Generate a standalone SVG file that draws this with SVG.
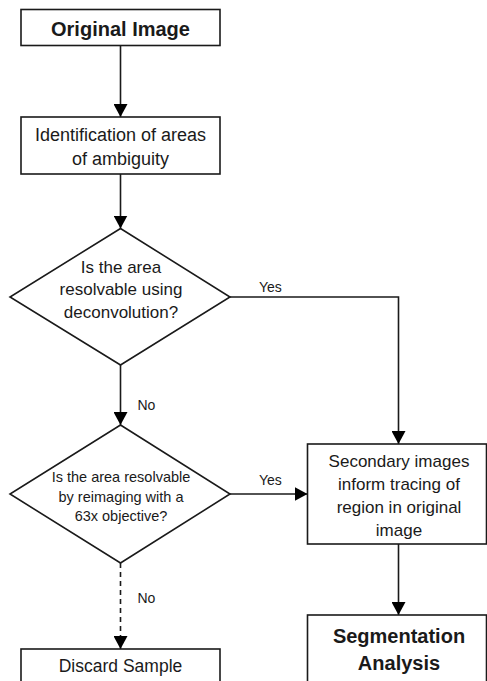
<svg xmlns="http://www.w3.org/2000/svg" width="487" height="681" viewBox="0 0 487 681">
<defs>
<marker id="ah" markerWidth="13" markerHeight="14" refX="13" refY="7" orient="auto" markerUnits="userSpaceOnUse" viewBox="0 0 13 14">
<path d="M0,0 L13,7 L0,14 Z" fill="#000"/>
</marker>
<style>
.box{fill:#fff;stroke:#1a1a1a;stroke-width:1.6}
.ln{fill:none;stroke:#1a1a1a;stroke-width:1.6}
.t{font-family:"Liberation Sans",Arial,sans-serif;fill:#1a1a1a;text-anchor:middle}
.b{font-weight:bold;font-size:20px}
.lab{font-family:"Liberation Sans",Arial,sans-serif;fill:#1a1a1a;font-size:14px}
</style>
</defs>
<rect width="487" height="681" fill="#fff"/>
<g id="connectors">
<line class="ln" x1="120.5" y1="45" x2="120.5" y2="117" marker-end="url(#ah)"/>
<line class="ln" x1="120.5" y1="174" x2="120.5" y2="228.5" marker-end="url(#ah)"/>
<polyline class="ln" points="230,297 398.5,297 398.5,444" marker-end="url(#ah)"/>
<line class="ln" x1="120.5" y1="365" x2="120.5" y2="425" marker-end="url(#ah)"/>
<line class="ln" x1="230" y1="494" x2="307.5" y2="494" marker-end="url(#ah)"/>
<line class="ln" x1="398.5" y1="544" x2="398.5" y2="615" marker-end="url(#ah)"/>
<line class="ln" x1="120.5" y1="563" x2="120.5" y2="649" stroke-dasharray="5,4" marker-end="url(#ah)"/>
<text class="lab" x="259" y="291.5">Yes</text>
<text class="lab" x="137.5" y="410">No</text>
<text class="lab" x="259" y="485">Yes</text>
<text class="lab" x="137.5" y="602.5">No</text>
</g>
<g id="original">
<rect class="box" x="21" y="9.5" width="199" height="36"/>
<text class="t b" x="120.5" y="36">Original Image</text>
</g>
<g id="identification">
<rect class="box" x="21" y="117" width="199" height="57"/>
<text class="t" font-size="18" x="120.5" y="141">Identification of areas</text>
<text class="t" font-size="18" x="120.5" y="165">of ambiguity</text>
</g>
<g id="decision1">
<polygon class="box" points="120.5,228.5 230,297 120.5,365 10,297"/>
<text class="t" font-size="17" x="121" y="272.5">Is the area</text>
<text class="t" font-size="17" x="121" y="295">resolvable using</text>
<text class="t" font-size="17" x="121" y="317.5">deconvolution?</text>
</g>
<g id="decision2">
<polygon class="box" points="120.5,425 230,494 120.5,563 10,494"/>
<text class="t" font-size="14.5" x="121" y="481.5">Is the area resolvable</text>
<text class="t" font-size="14.5" x="121" y="501.5">by reimaging with a</text>
<text class="t" font-size="14.5" x="121" y="520.5">63x objective?</text>
</g>
<g id="secondary">
<rect class="box" x="307.5" y="444" width="179" height="100"/>
<text class="t" font-size="17" x="399" y="466.5">Secondary images</text>
<text class="t" font-size="17" x="399" y="490">inform tracing of</text>
<text class="t" font-size="17" x="399" y="513">region in original</text>
<text class="t" font-size="17" x="399" y="535.5">image</text>
</g>
<g id="segmentation">
<rect class="box" x="307.5" y="615" width="179" height="70"/>
<text class="t b" x="399" y="643">Segmentation</text>
<text class="t b" x="399" y="670">Analysis</text>
</g>
<g id="discard">
<rect class="box" x="21" y="649" width="199" height="40"/>
<text class="t" font-size="17.5" x="120.5" y="671.5">Discard Sample</text>
</g>
</svg>
